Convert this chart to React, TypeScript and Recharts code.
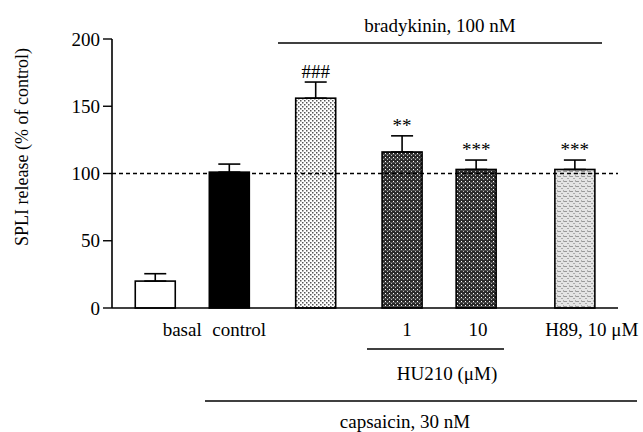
import React from 'react';
import { BarChart, Bar, XAxis, YAxis, ReferenceLine, ErrorBar, Cell, LabelList } from 'recharts';

// values (% of control, mean + SEM)
const groups = ['basal', 'control', 'bradykinin', 'HU210 1', 'HU210 10', 'H89'];
const means = [20, 101, 156, 116, 103, 103];
const sems = [5.5, 6, 12, 12, 7, 7];
const marks = ['', '', '###', '**', '***', '***'];
const tickLabels = ['basal', 'control', '', '1', '10', 'H89, 10 \u03bcM'];
const yTicks = [0, 50, 100, 150, 200];

// layout: the bars are not evenly spaced, so they sit on a grid of narrow slots
const TOTAL_SLOTS = 41;
const SLOT_OF = [3, 9, 16, 23, 29, 37];
const LABEL_NUDGE = [27, 10, 0, 5, 2, 17];
const FILLS = ['#ffffff', '#000000', 'url(#dotsLight)', 'url(#dotsDark)', 'url(#dotsDark)', 'url(#grain)'];

const W = 643;
const H = 432;
const MARGIN = { top: 39, right: 25, bottom: 94, left: 72 };
const Y_AXIS_W = 40;
const X_AXIS_H = 30;
const PLOT_H = H - MARGIN.top - MARGIN.bottom - X_AXIS_H;
const BAR_W = 40;
const FONT = '"Liberation Serif", "DejaVu Serif", serif';
const FS = 19;

const table = Array.from({ length: TOTAL_SLOTS }, (_, s) => {
  const g = SLOT_OF.indexOf(s);
  if (g < 0) return { slot: `s${s}`, g, value: null, err: null };
  return { slot: groups[g], g, value: means[g], err: [0, sems[g]] };
});

const BarShape = (props: any) => {
  const { x, y, width, height, fill, payload } = props;
  if (!payload || payload.value == null || !Number.isFinite(height)) return null;
  const cx = x + width / 2;
  return (
    <rect x={cx - BAR_W / 2} y={y} width={BAR_W} height={height} fill={fill} stroke="#000" strokeWidth={1.6} />
  );
};

const GroupTick = (props: any) => {
  const { x, y, payload } = props;
  const row = table[payload.index];
  if (!row || row.g < 0) return null;
  const text = tickLabels[row.g];
  if (!text) return null;
  return (
    <text x={x + LABEL_NUDGE[row.g]} y={y + 21} textAnchor="middle" dominantBaseline="central"
      fontFamily={FONT} fontSize={FS} fill="#000">
      {text}
    </text>
  );
};

// value passed in is the group index; the mark sits just above the error bar cap
const MarkLabel = (props: any) => {
  const vb = props.viewBox || props;
  const g = props.value;
  if (g == null || g < 0 || !marks[g]) return null;
  const cx = vb.x + vb.width / 2;
  const errTop = vb.y - (sems[g] * PLOT_H) / 200;
  return (
    <text x={cx} y={errTop - 4} textAnchor="middle" fontFamily={FONT} fontSize={FS} fill="#000">
      {marks[g]}
    </text>
  );
};

export default function App() {
  return (
    <div style={{ position: 'fixed', left: 0, top: 0, width: W, height: H, background: '#fff' }}>
      <BarChart width={W} height={H} data={table} margin={MARGIN}>
        <defs>
          <pattern id="dotsLight" width="4" height="4" patternUnits="userSpaceOnUse">
            <rect width="4" height="4" fill="#fff" />
            <rect x="0" y="0" width="1.5" height="1.5" fill="#555" />
            <rect x="2" y="2" width="1.5" height="1.5" fill="#555" />
          </pattern>
          <pattern id="dotsDark" width="4" height="4" patternUnits="userSpaceOnUse">
            <rect width="4" height="4" fill="#2a2a2a" />
            <rect x="1" y="1" width="1" height="1" fill="#fff" />
            <rect x="3" y="3" width="1" height="1" fill="#bbb" />
            <rect x="0" y="2" width="4" height="0.6" fill="#666" />
          </pattern>
          <pattern id="grain" width="6" height="5" patternUnits="userSpaceOnUse">
            <rect width="6" height="5" fill="#e4e4e4" />
            <rect x="0" y="1" width="3" height="1" fill="#999" />
            <rect x="3" y="3" width="2" height="1" fill="#aaa" />
            <rect x="5" y="0" width="1" height="2" fill="#b0b0b0" />
          </pattern>
        </defs>
        <XAxis dataKey="slot" interval={0} height={X_AXIS_H} tickLine={false} tickSize={0} tickMargin={0}
          tick={<GroupTick />} axisLine={{ stroke: '#000', strokeWidth: 1.6 }} />
        <YAxis domain={[0, 200]} ticks={yTicks} width={Y_AXIS_W} tickSize={9} tickMargin={3}
          axisLine={{ stroke: '#000', strokeWidth: 1.6 }} tickLine={{ stroke: '#000', strokeWidth: 1.4 }}
          tick={{ fontFamily: FONT, fontSize: FS, fill: '#000' }} />
        <ReferenceLine y={100} stroke="#000" strokeWidth={1.4} strokeDasharray="4 3" />
        <Bar dataKey="value" isAnimationActive={false} shape={<BarShape />}>
          {table.map((row, i) => (
            <Cell key={i} fill={row.g >= 0 ? FILLS[row.g] : 'none'} />
          ))}
          <ErrorBar dataKey="err" width={11} stroke="#000" strokeWidth={1.6} direction="y" />
          <LabelList dataKey="g" content={<MarkLabel />} />
        </Bar>
        <g fontFamily={FONT} fill="#000">
          <text x={22} y={147} transform="rotate(-90, 22, 147)" textAnchor="middle" dominantBaseline="central" fontSize={18}>
            SPLI release (% of control)
          </text>
          <line x1={278} x2={602} y1={43} y2={43} stroke="#000" strokeWidth={1.4} />
          <text x={440} y={25} textAnchor="middle" dominantBaseline="central" fontSize={FS}>bradykinin, 100 nM</text>
          <line x1={367} x2={504} y1={349} y2={349} stroke="#000" strokeWidth={1.4} />
          <text x={447} y={373} textAnchor="middle" dominantBaseline="central" fontSize={FS}>HU210 (μM)</text>
          <line x1={205} x2={637} y1={401} y2={401} stroke="#000" strokeWidth={1.4} />
          <text x={405} y={421} textAnchor="middle" dominantBaseline="central" fontSize={FS}>capsaicin, 30 nM</text>
        </g>
      </BarChart>
    </div>
  );
}
